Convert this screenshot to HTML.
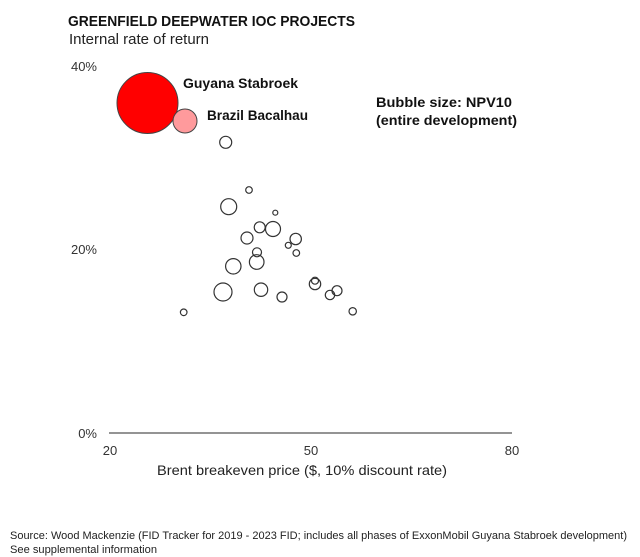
<!DOCTYPE html>
<html>
<head>
<meta charset="utf-8">
<style>
  html,body{margin:0;padding:0;background:#fff;}
  svg{display:block;}
  text{font-family:"Liberation Sans",sans-serif;}
</style>
</head>
<body>
<svg width="640" height="557" viewBox="0 0 640 557" xmlns="http://www.w3.org/2000/svg">
  <rect width="640" height="557" fill="#fff"/>
  <!-- Title -->
  <text x="68" y="26" font-size="15" font-weight="bold" fill="#111" textLength="287" lengthAdjust="spacingAndGlyphs">GREENFIELD DEEPWATER IOC PROJECTS</text>
  <text x="69" y="44" font-size="15" fill="#222" textLength="140" lengthAdjust="spacingAndGlyphs">Internal rate of return</text>

  <!-- Y tick labels -->
  <text x="97" y="71" font-size="13" fill="#333" text-anchor="end">40%</text>
  <text x="97" y="254" font-size="13" fill="#333" text-anchor="end">20%</text>
  <text x="97" y="438" font-size="13" fill="#333" text-anchor="end">0%</text>

  <!-- X axis -->
  <line x1="109" y1="433" x2="512" y2="433" stroke="#555" stroke-width="1.3"/>
  <text x="110" y="455" font-size="13" fill="#333" text-anchor="middle">20</text>
  <text x="311" y="455" font-size="13" fill="#333" text-anchor="middle">50</text>
  <text x="512" y="455" font-size="13" fill="#333" text-anchor="middle">80</text>
  <text x="157" y="475" font-size="14" fill="#222" textLength="290" lengthAdjust="spacingAndGlyphs">Brent breakeven price ($, 10% discount rate)</text>

  <!-- Highlighted bubbles -->
  <circle cx="147.5" cy="103" r="30.5" fill="#ff0000" stroke="#444" stroke-width="1"/>
  <circle cx="185" cy="121" r="12" fill="#ff9a9c" stroke="#444" stroke-width="1"/>
  <text x="183" y="88" font-size="14" font-weight="bold" fill="#111" textLength="115" lengthAdjust="spacingAndGlyphs">Guyana Stabroek</text>
  <text x="207" y="120" font-size="14" font-weight="bold" fill="#111" textLength="101" lengthAdjust="spacingAndGlyphs">Brazil Bacalhau</text>

  <!-- Bubble size note -->
  <text x="376" y="107" font-size="14" font-weight="bold" fill="#111" textLength="136" lengthAdjust="spacingAndGlyphs">Bubble size: NPV10</text>
  <text x="376" y="125" font-size="14" font-weight="bold" fill="#111" textLength="141" lengthAdjust="spacingAndGlyphs">(entire development)</text>

  <!-- Other bubbles -->
  <g fill="none" stroke="#333" stroke-width="1.2">
    <circle cx="225.7" cy="142.3" r="6"/>
    <circle cx="249" cy="190" r="3.3"/>
    <circle cx="228.7" cy="206.7" r="8"/>
    <circle cx="275.3" cy="212.7" r="2.5"/>
    <circle cx="259.7" cy="227.3" r="5.5"/>
    <circle cx="273" cy="229" r="7.5"/>
    <circle cx="247" cy="238" r="6"/>
    <circle cx="295.7" cy="239" r="5.7"/>
    <circle cx="288.3" cy="245.3" r="3"/>
    <circle cx="296.3" cy="253" r="3.3"/>
    <circle cx="257" cy="252.3" r="4.5"/>
    <circle cx="256.7" cy="262" r="7.3"/>
    <circle cx="233.3" cy="266.3" r="7.7"/>
    <circle cx="315" cy="280.7" r="3.5"/>
    <circle cx="315" cy="284" r="5.7"/>
    <circle cx="223" cy="292" r="9"/>
    <circle cx="261" cy="289.7" r="6.7"/>
    <circle cx="337" cy="290.7" r="5"/>
    <circle cx="330" cy="295" r="4.7"/>
    <circle cx="282" cy="297" r="5"/>
    <circle cx="183.7" cy="312.3" r="3.3"/>
    <circle cx="352.7" cy="311.3" r="3.7"/>
  </g>

  <!-- Footer -->
  <text x="10" y="539" font-size="11" fill="#222" textLength="617" lengthAdjust="spacingAndGlyphs">Source: Wood Mackenzie (FID Tracker for 2019 - 2023 FID; includes all phases of ExxonMobil Guyana Stabroek development)</text>
  <text x="10" y="553" font-size="11" fill="#222" textLength="147" lengthAdjust="spacingAndGlyphs">See supplemental information</text>
</svg>
</body>
</html>
